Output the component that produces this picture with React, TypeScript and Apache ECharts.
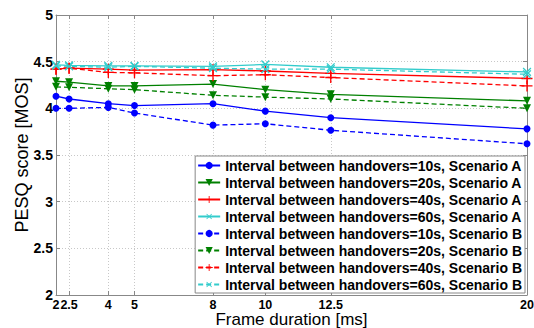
import React, { useEffect, useRef } from "react";
import * as echarts from "echarts";

const frameDurations = [2, 2.5, 4, 5, 8, 10, 12.5, 20];
const xTickValues = [2, 2.5, 4, 5, 8, 10, 12.5, 20];

const pesq10A = [4.13, 4.1, 4.05, 4.03, 4.05, 3.97, 3.9, 3.78];
const pesq20A = [4.29, 4.28, 4.24, 4.24, 4.26, 4.2, 4.15, 4.08];
const pesq40A = [4.42, 4.43, 4.42, 4.41, 4.415, 4.4, 4.375, 4.32];
const pesq60A = [4.465, 4.46, 4.455, 4.455, 4.45, 4.47, 4.44, 4.39];
const pesq10B = [4.0, 4.0, 4.01, 3.95, 3.82, 3.835, 3.765, 3.62];
const pesq20B = [4.23, 4.225, 4.21, 4.2, 4.14, 4.12, 4.1, 4.0];
const pesq40B = [4.42, 4.43, 4.385, 4.38, 4.35, 4.36, 4.33, 4.24];
const pesq60B = [4.455, 4.45, 4.44, 4.45, 4.43, 4.42, 4.42, 4.365];

const seriesNames = [
  "Interval between handovers=10s, Scenario A",
  "Interval between handovers=20s, Scenario A",
  "Interval between handovers=40s, Scenario A",
  "Interval between handovers=60s, Scenario A",
  "Interval between handovers=10s, Scenario B",
  "Interval between handovers=20s, Scenario B",
  "Interval between handovers=40s, Scenario B",
  "Interval between handovers=60s, Scenario B",
];

const FONT = "'Liberation Sans', Arial, Helvetica, sans-serif";
const PLUS = "path://M4.4,0H5.6V4.4H10V5.6H5.6V10H4.4V5.6H0V4.4H4.4Z";

export default function App() {
  const ref = useRef<HTMLDivElement>(null);
  useEffect(() => {
    if (!ref.current) return;
    const chart = echarts.init(ref.current, undefined, { renderer: "svg" });
    const values = [pesq10A, pesq20A, pesq40A, pesq60A, pesq10B, pesq20B, pesq40B, pesq60B];
    const colors = ["#0000ff", "#008000", "#ff0000", "#33cccc", "#0000ff", "#008000", "#ff0000", "#33cccc"];
    const symbols: any[] = [
      { symbol: "circle", size: 7, rotate: 0 },
      { symbol: "triangle", size: 8, rotate: 180 },
      { symbol: PLUS, size: 11, rotate: 0 },
      { symbol: PLUS, size: 11, rotate: 45 },
    ];
    const series = values.map((vals, i) => {
      const s = symbols[i % 4];
      return {
        name: seriesNames[i],
        type: "line",
        data: frameDurations.map((x, j) => [x, vals[j]]),
        symbol: s.symbol,
        symbolSize: s.size,
        symbolRotate: s.rotate,
        showSymbol: true,
        color: colors[i],
        itemStyle: { color: colors[i] },
        lineStyle: {
          color: colors[i],
          width: 1.3,
          type: i >= 4 ? [5, 3] : "solid",
        },
        emphasis: { disabled: true },
      };
    });
    const axisCommon = {
      axisLine: { show: true, lineStyle: { color: "#888", width: 1 } },
      axisTick: { show: true, inside: true, length: 4, lineStyle: { color: "#888" } },
    };
    chart.setOption({
      animation: false,
      textStyle: { fontFamily: FONT },
      grid: { left: 56, right: 7, top: 15, bottom: 33, show: false, outerBoundsMode: "none", containLabel: false },
      xAxis: [
        {
          type: "value",
          min: 2,
          max: 20,
          ...axisCommon,
          axisTick: { ...axisCommon.axisTick, customValues: xTickValues },
          axisLabel: {
            customValues: xTickValues,
            formatter: (v: number) => String(v),
            color: "#000",
            fontSize: 12.5,
            lineHeight: 10,
            fontWeight: "bold",
            fontFamily: FONT,
            margin: 5,
            hideOverlap: false,
            showMinLabel: true,
            showMaxLabel: true,
          },
          splitLine: { show: true, lineStyle: { color: "#c8c8c8", type: [1, 2] } },
          name: "Frame duration [ms]",
          nameLocation: "middle",
          nameGap: 16,
          nameMoveOverlap: false,
          nameTextStyle: { fontSize: 17, lineHeight: 16, color: "#000", fontFamily: FONT, verticalAlign: "top" },
        },
        {
          type: "value",
          min: 2,
          max: 20,
          position: "top",
          ...axisCommon,
          axisTick: { ...axisCommon.axisTick, customValues: xTickValues },
          axisLabel: { show: false },
          splitLine: { show: false },
        },
      ],
      yAxis: [
        {
          type: "value",
          min: 2,
          max: 5,
          interval: 0.5,
          ...axisCommon,
          axisLabel: {
            formatter: (v: number) => String(v),
            color: "#000",
            fontSize: 14,
            fontWeight: "bold",
            fontFamily: FONT,
            margin: 3,
            showMinLabel: true,
            hideOverlap: false,
          },
          splitLine: { show: true, lineStyle: { color: "#c8c8c8", type: [1, 2] } },
          name: "PESQ score [MOS]",
          nameLocation: "middle",
          nameGap: 25,
          nameMoveOverlap: false,
          nameTextStyle: { fontSize: 18, color: "#000", fontFamily: FONT },
        },
        {
          type: "value",
          min: 2,
          max: 5,
          interval: 0.5,
          position: "right",
          ...axisCommon,
          axisLabel: { show: false },
          splitLine: { show: false },
        },
      ],
      legend: {
        orient: "vertical",
        right: 9,
        bottom: 35,
        itemWidth: 22,
        itemHeight: 9,
        itemGap: 2,
        padding: [2, 3, 1, 2],
        borderColor: "#888",
        borderWidth: 1,
        backgroundColor: "#fff",
        borderRadius: 0,
        textStyle: { fontSize: 14, lineHeight: 15, fontWeight: "bold", color: "#000", fontFamily: FONT },
        data: seriesNames,
      },
      series,
    });
    return () => chart.dispose();
  }, []);
  return <div ref={ref} style={{ position: "absolute", left: 0, top: 0, width: 534, height: 328 }} />;
}
